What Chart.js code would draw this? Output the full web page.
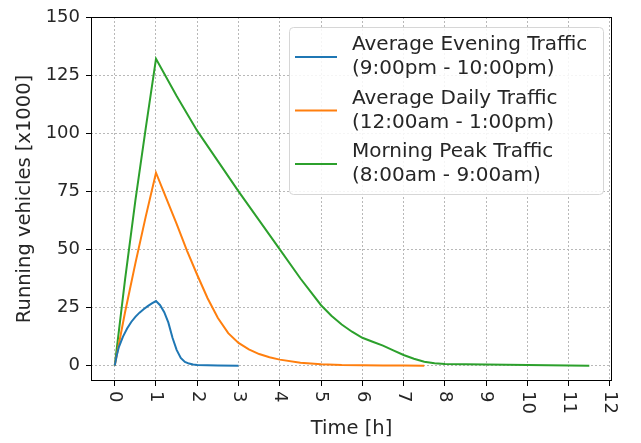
<!DOCTYPE html>
<html>
<head>
<meta charset="utf-8">
<script src="https://cdn.jsdelivr.net/npm/chart.js@4/dist/chart.umd.min.js"></script>
<style>
  html, body { margin: 0; padding: 0; background: #fff; }
  #wrap { width: 641px; height: 443px; }
</style>
</head>
<body>
<div id="wrap"><canvas id="trafficChart" width="641" height="443"></canvas></div>
<script>
// series data (time in hours, vehicles in thousands)
const eveningT = [0, 0.05, 0.1, 0.2, 0.3, 0.4, 0.5, 0.6, 0.7, 0.8, 0.9, 1.0, 1.1, 1.2, 1.3, 1.4, 1.5, 1.6, 1.7, 1.8, 1.9, 2.0, 2.5, 3.0];
const eveningV = [0, 4.5, 8, 12.5, 16, 18.8, 21, 22.8, 24.3, 25.6, 26.8, 27.8, 26, 23, 18.5, 12, 6.8, 3.3, 1.6, 0.9, 0.5, 0.3, 0.1, 0];

const dailyT = [0, 0.25, 0.5, 0.75, 1, 1.25, 1.5, 1.75, 2, 2.25, 2.5, 2.75, 3, 3.25, 3.5, 3.75, 4, 4.5, 5, 5.5, 6, 6.5, 7, 7.5];
const dailyV = [0, 23, 44, 64, 83, 72, 61, 49.5, 39, 29, 20.5, 14, 9.8, 7, 5, 3.6, 2.6, 1.3, 0.6, 0.3, 0.2, 0.1, 0.05, 0];

const peakT = [0, 0.25, 0.5, 0.75, 1, 1.5, 2, 2.5, 3, 3.5, 4, 4.5, 5, 5.25, 5.5, 5.75, 6, 6.25, 6.5, 6.75, 7, 7.25, 7.5, 7.75, 8, 8.5, 9, 10, 11, 11.5];
const peakV = [0, 37, 71, 102, 132, 116, 101, 88, 75, 62.5, 50, 37.5, 26, 21.5, 17.7, 14.6, 12, 10.3, 8.6, 6.6, 4.6, 3.0, 1.7, 1.0, 0.7, 0.6, 0.5, 0.3, 0.1, 0];

const seriesLabels = [
    ['Average Evening Traffic', '(9:00pm - 10:00pm)'],
    ['Average Daily Traffic', '(12:00am - 1:00pm)'],
    ['Morning Peak Traffic', '(8:00am - 9:00am)']
];
const seriesColors = ['#1f77b4', '#ff7f0e', '#2ca02c'];

const xTicks = [0, 1, 2, 3, 4, 5, 6, 7, 8, 9, 10, 11, 12];
const yTicks = [0, 25, 50, 75, 100, 125, 150];

const FONT = 'DejaVu Sans';
const TEXT = '#262626';

const toPoints = (ts, vs) => ts.map((t, i) => ({ x: t, y: vs[i] }));

// x tick labels, turned 90deg clockwise like the original
const xLabelPlugin = {
    id: 'xLabels',
    afterDraw(chart) {
        const { ctx, chartArea, scales } = chart;
        ctx.save();
        ctx.font = '18px "' + FONT + '"';
        ctx.fillStyle = TEXT;
        ctx.textAlign = 'left';
        ctx.textBaseline = 'middle';
        xTicks.forEach(v => {
            const x = scales.x.getPixelForValue(v);
            ctx.save();
            ctx.translate(x, chartArea.bottom + 10);
            ctx.rotate(Math.PI / 2);
            ctx.fillText(String(v), 0, 0);
            ctx.restore();
        });
        ctx.restore();
    }
};

// axes frame + legend box
const framePlugin = {
    id: 'frame',
    afterDatasetsDraw(chart) {
        const { ctx, chartArea: a } = chart;
        ctx.save();
        ctx.strokeStyle = '#000';
        ctx.lineWidth = 1;
        ctx.strokeRect(a.left + 0.5, a.top + 0.5, a.right - a.left - 1, a.bottom - a.top - 1);

        // legend
        const bx = a.left + 198, by = a.top + 10, bw = 314, bh = 167;
        ctx.beginPath();
        ctx.roundRect(bx + 0.5, by + 0.5, bw, bh, 4);
        ctx.fillStyle = 'rgba(255,255,255,0.85)';
        ctx.fill();
        ctx.strokeStyle = '#d6d6d6';
        ctx.stroke();

        ctx.font = '20px "' + FONT + '"';
        ctx.textBaseline = 'middle';
        ctx.textAlign = 'left';
        seriesLabels.forEach((lines, i) => {
            const yc = by + 30 + i * 53.5;
            ctx.strokeStyle = seriesColors[i];
            ctx.lineWidth = 2;
            ctx.beginPath();
            ctx.moveTo(bx + 6, yc);
            ctx.lineTo(bx + 48, yc);
            ctx.stroke();
            ctx.fillStyle = TEXT;
            ctx.fillText(lines[0], bx + 63, yc - 12);
            ctx.fillText(lines[1], bx + 63, yc + 12);
        });
        ctx.restore();
    }
};

const gridCommon = {
    color: '#b8b8b8',
    lineWidth: 1,
    borderDash: [2, 2],
    tickColor: '#000',
    tickLength: 5,
    tickBorderDash: []
};

new Chart(document.getElementById('trafficChart'), {
    type: 'line',
    data: {
        datasets: [
            { label: seriesLabels[0].join(' '), data: toPoints(eveningT, eveningV), borderColor: seriesColors[0] },
            { label: seriesLabels[1].join(' '), data: toPoints(dailyT, dailyV), borderColor: seriesColors[1] },
            { label: seriesLabels[2].join(' '), data: toPoints(peakT, peakV), borderColor: seriesColors[2] }
        ].map(d => Object.assign(d, { borderWidth: 2, pointRadius: 0, tension: 0, fill: false }))
    },
    options: {
        responsive: false,
        animation: false,
        layout: { padding: { top: 17, right: 29, left: 0, bottom: 0 } },
        plugins: {
            legend: { display: false },
            tooltip: { enabled: false }
        },
        scales: {
            x: {
                type: 'linear',
                min: -0.575,
                max: 12.05,
                afterBuildTicks: s => { s.ticks = xTicks.map(v => ({ value: v })); },
                afterFit: s => { s.height = 62; },
                ticks: { display: false },
                grid: gridCommon,
                border: { display: false, dash: [2, 2] },
                title: {
                    display: true, text: 'Time [h]', color: TEXT,
                    font: { family: FONT, size: 19.5 }, padding: { top: 2, bottom: 2 }
                }
            },
            y: {
                min: -6.6,
                max: 150,
                afterBuildTicks: s => { s.ticks = yTicks.map(v => ({ value: v })); },
                afterFit: s => { s.width = 91; },
                ticks: { color: TEXT, font: { family: FONT, size: 18 }, padding: 6 },
                grid: gridCommon,
                border: { display: false, dash: [2, 2] },
                title: {
                    display: true, text: 'Running vehicles [x1000]', color: TEXT,
                    font: { family: FONT, size: 19.5 }, padding: { top: 13, bottom: 0 }
                }
            }
        }
    },
    plugins: [xLabelPlugin, framePlugin]
});
</script>
</body>
</html>
